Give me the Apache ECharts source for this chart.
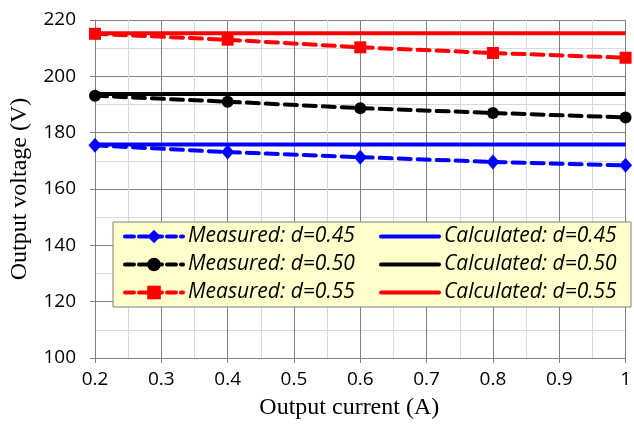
<!DOCTYPE html>
<html>
<head>
<meta charset="utf-8">
<script src="https://cdn.jsdelivr.net/npm/echarts@6/dist/echarts.min.js"></script>
<style>
  html, body { margin: 0; padding: 0; background: #fff; }
  #main { width: 634px; height: 425px; }
</style>
</head>
<body>
<div id="main"></div>
<script>
// output current (A)
const current = [0.2, 0.4, 0.6, 0.8, 1.0];

// measured output voltage (V)
const measured45 = [175.5, 173.1, 171.3, 169.6, 168.4];
const measured50 = [193.1, 191.0, 188.7, 187.0, 185.4];
const measured55 = [215.1, 213.0, 210.3, 208.3, 206.6];

// calculated output voltage (V)
const calculated45 = [175.8, 175.8, 175.8, 175.8, 175.8];
const calculated50 = [193.7, 193.7, 193.7, 193.7, 193.7];
const calculated55 = [215.3, 215.3, 215.3, 215.3, 215.3];

const names = [
  "Measured: d=0.45", "Calculated: d=0.45",
  "Measured: d=0.50", "Calculated: d=0.50",
  "Measured: d=0.55", "Calculated: d=0.55"
];

function pairs(ys) {
  return current.map(function (x, i) { return [x, ys[i]]; });
}

function measuredSeries(name, ys, color, symbol, size) {
  return {
    name: name,
    type: "line",
    data: pairs(ys),
    symbol: symbol,
    symbolSize: size,
    color: color,
    itemStyle: { color: color },
    lineStyle: { color: color, width: 4, type: [12, 7], cap: "round" },
    z: 3
  };
}

function calculatedSeries(name, ys, color) {
  return {
    name: name,
    type: "line",
    data: pairs(ys),
    showSymbol: false,
    symbol: "none",
    color: color,
    lineStyle: { color: color, width: 4 },
    z: 2
  };
}

const chart = echarts.init(document.getElementById("main"));

chart.setOption({
  animation: false,
  grid: { left: 93, right: 4, top: 20, bottom: 64 },
  legend: {
    left: 113,
    top: 222,
    width: 510,
    orient: "horizontal",
    backgroundColor: "#FFFFCC",
    borderColor: "#808080",
    borderWidth: 1,
    padding: [1, 9, 1, 10],
    itemGap: 1,
    itemWidth: 58,
    itemHeight: 17,
    textStyle: {
      fontFamily: "Open Sans",
      fontStyle: "italic",
      fontSize: 21,
      color: "#000",
      height: 27,
      lineHeight: 27
    },
    data: names.map(function (n) {
      const isMeasured = n.indexOf("Measured") === 0;
      const item = {
        name: n,
        textStyle: { width: isMeasured ? 190 : 178 },
        lineStyle: { width: 4, type: isMeasured ? [9, 5] : "solid", cap: "round" }
      };
      if (!isMeasured) {
        item.itemStyle = { opacity: 0 };
      }
      return item;
    })
  },
  xAxis: {
    type: "value",
    min: 0.2,
    max: 1,
    interval: 0.1,
    name: "Output current (A)",
    nameLocation: "middle",
    nameGap: 38,
    nameTextStyle: {
      fontFamily: "Liberation Serif",
      fontSize: 24,
      color: "#000",
      padding: [0, 22, 0, 0]
    },
    axisLine: { show: true, onZero: false, lineStyle: { color: "#808080", width: 1 } },
    axisTick: { show: true, length: 5, lineStyle: { color: "#808080" } },
    axisLabel: {
      fontFamily: "Open Sans",
      fontSize: 19,
      color: "#000",
      margin: 12,
      formatter: function (v) { return String(Math.round(v * 10) / 10); }
    },
    splitLine: { show: true, lineStyle: { color: "#808080", width: 1 } },
    minorTick: { show: false, splitNumber: 2 },
    minorSplitLine: { show: true, lineStyle: { color: "#D9D9D9", width: 1 } }
  },
  yAxis: {
    type: "value",
    min: 100,
    max: 220,
    interval: 20,
    name: "Output voltage (V)",
    nameLocation: "middle",
    nameGap: 63,
    nameTextStyle: {
      fontFamily: "Liberation Serif",
      fontSize: 24,
      color: "#000"
    },
    axisLine: { show: true, lineStyle: { color: "#808080", width: 1 } },
    axisTick: { show: true, length: 5, lineStyle: { color: "#808080" } },
    axisLabel: {
      fontFamily: "Open Sans",
      fontSize: 19,
      color: "#000",
      margin: 19
    },
    splitLine: { show: true, lineStyle: { color: "#808080", width: 1 } },
    minorTick: { show: false, splitNumber: 2 },
    minorSplitLine: { show: true, lineStyle: { color: "#D9D9D9", width: 1 } }
  },
  series: [
    calculatedSeries(names[1], calculated45, "#0000FF"),
    calculatedSeries(names[3], calculated50, "#000000"),
    calculatedSeries(names[5], calculated55, "#FF0000"),
    measuredSeries(names[0], measured45, "#0000FF", "diamond", [13, 15]),
    measuredSeries(names[2], measured50, "#000000", "circle", 12),
    measuredSeries(names[4], measured55, "#FF0000", "rect", 12)
  ]
});
</script>
</body>
</html>
